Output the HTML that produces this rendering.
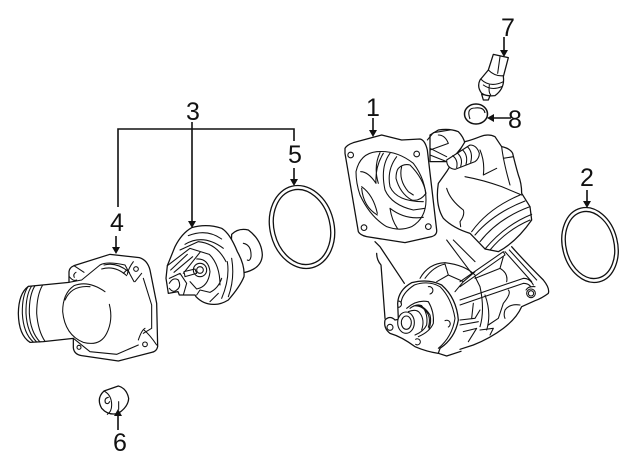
<!DOCTYPE html>
<html><head><meta charset="utf-8"><style>
html,body{margin:0;padding:0;background:#fff}
svg{display:block}
text{font-family:"Liberation Sans",sans-serif;font-size:25px;fill:#111;text-anchor:middle}
.z{fill:none;stroke:#111;stroke-width:3.8;stroke-linejoin:round;stroke-linecap:round}
.t{stroke-width:3.2}
.w{fill:#fff}
</style></head><body>
<svg width="640" height="471" viewBox="0 0 640 471" xmlns="http://www.w3.org/2000/svg">
<rect width="640" height="471" fill="#fff"/>

<!-- leaders -->
<g fill="none" stroke="#111" stroke-width="1.6">
<path d="M118 207V129H294V141M192 122V222M294 168V182M116 236V250M118 430V415M373 118V133M587 190V204M504 37V52M511 118H490"/>
</g>
<text x="193" y="120">3</text><text x="373" y="116">1</text><text x="587" y="186">2</text>
<text x="117" y="231">4</text><text x="295" y="163">5</text><text x="120" y="451">6</text>
<text x="508" y="36">7</text><text x="515" y="128">8</text>

<!-- rings -->
<g fill="none" stroke="#111" stroke-width="1.3">
<ellipse cx="302" cy="227" rx="32" ry="42" transform="rotate(-14 302 227)"/>
<ellipse cx="302" cy="227" rx="28" ry="38" transform="rotate(-14 302 227)"/>
<ellipse cx="590" cy="245" rx="27.5" ry="38" transform="rotate(-14 590 245)"/>
<ellipse cx="590" cy="245" rx="24" ry="34" transform="rotate(-14 590 245)"/>
<ellipse cx="476" cy="114" rx="11.5" ry="10" stroke-width="1.5"/>
<path d="M470 119Q466 108 475 108Q484 107 485 113" stroke-width="1.1"/>
</g>

<!-- cap 6 -->
<g transform="translate(0,90) scale(.33333)" class="z">
<path class="w" d="M312 903L355 888Q380 895 386 925Q385 950 355 970Q325 978 305 955Q288 925 312 903Z"/>
<path class="t" d="M312 903Q335 915 335 945Q335 965 322 973M356 935V958M325 922Q312 925 316 938Q324 945 329 935"/>
</g>

<!-- housing 4 -->
<g transform="translate(10,245) scale(.33333)" class="z">
<path class="w" d="M177 80Q178 68 192 62L300 28L388 38Q412 45 420 75L440 175L443 305Q440 320 425 322L325 348L215 332Q192 328 190 308L190 280L100 290L60 292Q26 270 25 205Q26 145 55 124L177 112Z"/>
<path class="t" d="M55 124Q36 150 37 205Q40 265 70 291M65 123Q47 150 48 205Q51 262 80 291M75 122Q57 150 58 205Q61 260 90 291M98 120Q80 150 80 205Q84 258 105 289"/>
<path class="t" d="M177 112L215 105L270 60Q290 48 345 60L372 110M400 100L425 180L425 250L400 265M190 280Q205 292 240 320L320 328L385 300"/>
<path class="t" d="M285 140Q235 105 192 122Q158 145 158 200Q165 270 220 292Q270 305 290 265Q310 225 298 178M165 165Q185 120 240 125"/>
<path class="t" d="M275 72Q315 60 350 92M282 60Q320 50 358 82M340 85L350 75M402 255Q420 270 440 300M385 285Q395 255 405 250M370 50Q355 70 352 88M395 85L375 110"/>
<circle cx="378" cy="72" r="7" class="t"/>
<circle cx="405" cy="298" r="7" class="t"/>
<circle cx="207" cy="307" r="6" class="t"/>
<path class="t" d="M198 82Q188 88 193 97M192 62L222 82M178 95Q190 110 200 105"/>
</g>

<!-- thermostat 3 -->
<g transform="translate(150,215) scale(.33333)" class="z">
<path class="w" d="M245 58Q265 38 295 45Q335 75 337 120Q335 160 285 172L240 172Z"/>
<path class="t" d="M280 85Q305 90 303 125Q300 140 292 135"/>
<path class="w" d="M52 152L75 95Q95 55 125 38Q170 25 215 40Q240 55 262 110Q285 150 282 185Q270 215 235 255Q210 270 190 268Q160 268 138 245L135 240L88 240L84 230L55 235L48 190Z"/>
<path class="t" d="M115 62Q170 40 215 72M105 88Q160 55 220 100M90 105L145 80Q200 85 228 140M52 152L120 100L178 118Q210 150 210 210M62 165L112 118M72 172L128 125M100 175L150 112M140 132Q175 130 180 170Q175 215 140 222L120 200M245 130Q255 190 235 245M232 140Q240 190 215 250M205 235L180 260M140 240L150 225L180 232Q205 220 215 190M100 240L110 205L90 175L58 190M58 205Q70 185 85 195Q95 215 80 225Q70 235 58 220"/>
<path class="w t" d="M102 170L135 162L140 175L105 185Z"/>
<circle cx="150" cy="165" r="20" class="t"/>
<circle cx="150" cy="165" r="10" class="t"/>
</g>

<!-- switch 7 -->
<g transform="translate(450,5) scale(.33333)" class="z">
<path class="w" d="M95 268L100 285L115 285L120 272Z"/>
<path class="w" d="M130 148L175 158L160 215Q165 250 135 272Q110 275 95 265Q80 245 90 225L115 195Z"/>
<path class="t" d="M150 155L143 205M115 195Q135 215 160 212M92 222Q120 250 160 230M100 240Q125 258 155 245M122 270Q115 262 118 240"/>
</g>

<!-- struts / fins right -->
<g transform="translate(460,230) scale(.33333)" class="z">
<path d="M155 50Q190 90 250 150Q270 175 265 190Q245 205 225 212L185 230Q170 265 130 295Q90 325 40 345L0 358"/>
<path class="t" d="M0 155L130 65L135 75L0 170M130 80L120 115L45 145M0 210L190 145Q210 145 220 165M0 225L190 160Q205 160 212 170M135 65L215 155M148 60L230 150"/>
<path class="t" d="M45 140L60 170Q75 240 60 290M75 195Q95 250 80 300M120 115Q145 130 140 155M145 180Q155 190 130 220L115 265L85 285M180 225Q150 220 135 240Q130 255 135 265M0 270L45 265L60 240M0 285L55 275M10 305L50 295L25 335M60 300L100 295L90 315M40 220L35 265"/>
<circle cx="213" cy="190" r="13" class="t"/>
<circle cx="213" cy="190" r="8" class="t"/>
<path class="t" d="M198 180Q205 168 225 170"/>
</g>

<!-- hub -->
<g transform="translate(375,240) scale(.33333)" class="z">
<path d="M5 40Q5 60 18 75L30 235M0 5L15 20L88 130"/>
<path class="t" d="M215 0L290 100M235 0L300 65"/>
<path class="t" d="M135 115Q160 70 210 68Q270 75 300 105M150 115Q175 80 210 72M210 72L220 105L185 125M220 105L265 125L240 155M265 125L300 95"/>
<path class="w" d="M68 190Q70 150 110 128Q160 115 200 135Q245 175 250 240Q240 295 195 325L190 340Q155 335 120 320Q80 290 45 280Q25 265 30 240Q45 225 60 240L70 238Z"/>
<path d="M190 340L215 348L258 334"/>
<path class="t" d="M78 190Q80 160 118 135Q160 120 195 140Q230 175 240 235Q232 290 190 325"/>
<path class="t" d="M95 205Q125 178 160 185Q178 215 175 250Q165 275 130 290"/>
<path class="t" d="M105 205Q125 190 140 197Q160 220 155 255Q145 275 120 285M115 198Q135 195 150 210Q170 230 160 262M128 195Q150 200 165 225Q170 245 162 268M100 215Q125 205 135 220Q150 240 140 270"/>
<path class="t" d="M160 140a11 11 0 1 1 5 22M70 183a9 9 0 1 1 0 19M210 242a10 10 0 1 1 10 19M122 298a9 9 0 1 1 0 15"/>
<ellipse cx="93" cy="248" rx="25" ry="32" class="w t"/>
<ellipse cx="94" cy="248" rx="15" ry="20" class="t"/>
<circle cx="45" cy="262" r="9" class="t"/>
</g>

<!-- body top / pipe -->
<g transform="translate(430,125) scale(.33333)" class="z">
<path class="w" d="M0 30L25 15Q60 10 85 20Q100 35 105 55L60 110L0 110Z"/>
<path class="t" d="M25 30Q45 30 55 55L0 75M0 70L50 95M0 90L50 110"/>
<path class="w" d="M105 50Q125 45 150 35Q175 25 195 35L215 65Q240 70 248 85Q255 115 265 150Q275 175 275 205L300 245L305 285Q260 350 205 380L165 372L120 325Q70 310 40 280Q15 240 25 175L50 140Z"/>
<path class="w t" d="M50 105L120 60Q140 60 148 85Q148 100 135 110L75 133Q50 130 50 105Z"/>
<path class="t" d="M68 92Q85 105 80 128M82 84Q100 100 92 124M98 75Q115 92 108 118M112 65Q130 82 122 112"/>
<path class="t" d="M125 320Q175 250 270 210M135 330Q190 265 285 228M150 350Q205 280 300 245M165 372Q225 300 305 268M180 375Q230 315 300 285"/>
<path class="t" d="M105 155Q160 165 215 185L275 210M50 190Q60 225 100 255Q105 270 90 290L92 305M150 75Q165 110 160 150L200 130M215 65Q220 110 240 180M220 100L250 95"/>
</g>

<!-- flange 1 -->
<g transform="translate(340,130) scale(.33333)" class="z">
<path class="t" d="M262 30L280 8L330 0"/>
<path class="w" d="M15 55Q20 45 40 38L125 15L185 30L240 27Q255 30 262 60L290 300Q292 315 275 320L195 338L80 320Q60 315 55 305L15 70Z"/>
<path class="t" d="M48 125Q60 70 110 65Q170 60 220 100Q258 150 258 210Q258 265 215 290Q180 305 140 290Q90 260 60 195Q48 160 48 125Z"/>
<path class="t" d="M62 125Q85 125 108 160Q105 110 130 70M120 68Q100 110 115 160M150 70Q120 110 135 180Q155 225 220 240L255 235M170 80Q140 120 150 170Q170 215 250 215M65 170Q100 195 112 250M65 175Q70 230 112 255"/>
<path class="t" d="M175 115Q190 100 210 105Q250 145 258 190Q240 215 215 210Q180 190 168 145Q168 125 175 115M185 110Q175 150 205 185L220 195M150 235Q195 270 250 262M150 235Q155 270 172 295"/>
<circle cx="32" cy="75" r="8.5" class="t"/>
<circle cx="230" cy="72" r="8.5" class="t"/>
<circle cx="72" cy="293" r="8.5" class="t"/>
<circle cx="265" cy="290" r="8.5" class="t"/>
</g>

<!-- arrowheads on top -->
<g fill="#111">
<path d="M192 228l-4-7h8zM294 186l-4-7h8zM116 254l-4-7h8zM118 409l-4 7h8zM373 137l-4-7h8zM587 208l-4-7h8zM504 57l-4-7h8zM487 118l7-4v8z"/>
</g>
</svg>
</body></html>
